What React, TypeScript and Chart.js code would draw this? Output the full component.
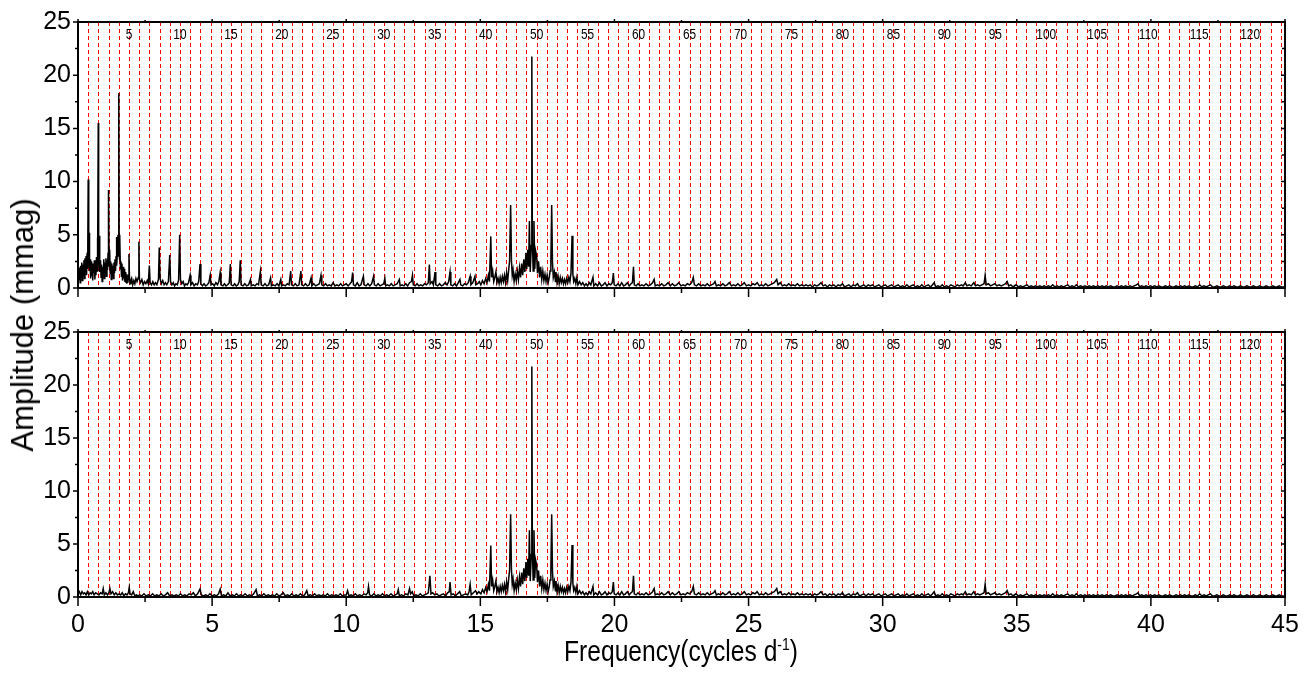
import React, { useEffect, useRef } from 'react';
import { Chart, registerables } from 'chart.js';

Chart.register(...registerables);

// ---------------- data ----------------
// Orbital-harmonic grid (c/d) and the harmonic-number labels printed along the top of each panel
const ORBITAL_FREQ = 0.38;
const HARMONIC_COUNT = 118;
const harmonicLabelOrders = [5, 10, 15, 20, 25, 30, 35, 40, 45, 50, 55, 60, 65, 70, 75, 80, 85, 90, 95, 100, 105, 110, 115];
const harmonicLabelTexts = ['5', '10', '15', '20', '25', '30', '35', '40', '50', '55', '60', '65', '70', '75', '80', '85', '90', '95', '100', '105', '110', '115', '120'];

const xTickValues = [0, 5, 10, 15, 20, 25, 30, 35, 40, 45];
const yTickValues = [0, 5, 10, 15, 20, 25];

// Top panel: original amplitude spectrum, 0-2 c/d  [frequency, amplitude mmag]
const topVeryLow: [number, number][] = [
  [0.00, 1.2], [0.02, 2.0], [0.04, 0.8], [0.06, 1.9], [0.08, 0.5], [0.10, 2.1], [0.12, 1.1], [0.14, 2.4], [0.16, 0.7], [0.18, 2.2],
  [0.20, 1.3], [0.22, 2.6], [0.24, 0.9], [0.26, 2.8], [0.28, 1.5], [0.30, 3.0], [0.32, 1.2], [0.34, 3.3], [0.36, 1.8], [0.37, 4.0],
  [0.38, 10.2], [0.39, 3.2], [0.41, 2.0], [0.42, 5.2], [0.43, 1.6], [0.45, 2.7], [0.47, 0.9], [0.49, 2.5], [0.51, 1.1], [0.53, 2.3],
  [0.55, 0.7], [0.57, 2.0], [0.59, 1.4], [0.61, 2.6], [0.63, 0.8], [0.65, 2.4], [0.67, 1.2], [0.69, 2.9], [0.71, 1.6], [0.72, 4.7],
  [0.74, 2.2], [0.755, 15.5], [0.77, 3.1], [0.79, 2.0], [0.80, 4.9], [0.82, 1.5], [0.84, 2.6], [0.86, 1.0], [0.88, 2.2], [0.90, 0.6],
  [0.92, 2.0], [0.94, 1.3], [0.96, 2.7], [0.98, 0.9], [1.00, 2.4], [1.02, 1.4], [1.04, 2.8], [1.06, 1.1], [1.08, 2.6], [1.10, 1.7],
  [1.12, 3.3], [1.13, 2.0], [1.145, 9.2], [1.16, 2.3], [1.18, 3.6], [1.20, 1.4], [1.22, 2.5], [1.24, 0.8], [1.26, 2.3], [1.28, 1.2],
  [1.30, 2.1], [1.32, 0.9], [1.34, 2.4], [1.36, 1.4], [1.38, 2.7], [1.40, 1.6], [1.42, 3.0], [1.43, 4.8], [1.45, 2.1], [1.47, 3.2],
  [1.49, 5.0], [1.505, 3.0], [1.52, 18.3], [1.535, 3.2], [1.55, 2.6], [1.56, 5.0], [1.58, 1.8], [1.60, 2.5], [1.62, 1.1], [1.64, 2.3],
  [1.66, 0.7], [1.68, 2.0], [1.70, 0.9], [1.72, 1.8], [1.74, 0.6], [1.76, 1.5], [1.78, 0.5], [1.80, 1.3], [1.82, 0.4], [1.84, 1.0],
  [1.86, 0.5], [1.88, 1.2], [1.90, 3.2], [1.92, 0.9], [1.94, 0.4], [1.97, 0.7],
];

// Top panel, 2-10 c/d
const topLow: [number, number][] = [
  [2.00, 0.9], [2.04, 0.3], [2.08, 0.7], [2.12, 0.4], [2.16, 0.9], [2.20, 0.6], [2.25, 1.0], [2.27, 4.35], [2.29, 0.8], [2.33, 0.5],
  [2.38, 0.8], [2.43, 0.3], [2.48, 0.6], [2.53, 0.4], [2.58, 0.7], [2.62, 0.4], [2.66, 2.1], [2.69, 0.5], [2.74, 0.3], [2.79, 0.6],
  [2.84, 0.3], [2.89, 0.5], [2.94, 0.3], [3.00, 0.8], [3.03, 3.8], [3.06, 0.9], [3.11, 0.4], [3.16, 0.7], [3.21, 0.3], [3.26, 0.5],
  [3.31, 0.3], [3.37, 0.6], [3.42, 3.1], [3.45, 0.6], [3.50, 0.3], [3.55, 0.5], [3.60, 0.2], [3.65, 0.4], [3.70, 0.3], [3.75, 0.7],
  [3.79, 5.0], [3.82, 0.8], [3.87, 0.4], [3.92, 0.6], [3.97, 0.2], [4.02, 0.4], [4.07, 0.3], [4.12, 0.5], [4.18, 1.2], [4.21, 0.3],
  [4.27, 0.5], [4.33, 0.2], [4.39, 0.4], [4.45, 0.3], [4.50, 0.6], [4.55, 2.25], [4.58, 0.4], [4.64, 0.2], [4.70, 0.4], [4.76, 0.2],
  [4.82, 0.3], [4.88, 0.5], [4.93, 1.2], [4.96, 0.3], [5.02, 0.4], [5.08, 0.2], [5.14, 0.5], [5.20, 0.3], [5.25, 0.6], [5.30, 1.45],
  [5.33, 0.3], [5.40, 0.2], [5.46, 0.4], [5.52, 0.2], [5.58, 0.3], [5.64, 0.5], [5.68, 2.25], [5.71, 0.3], [5.78, 0.2], [5.84, 0.4],
  [5.90, 0.2], [5.96, 0.3], [6.01, 0.6], [6.05, 2.6], [6.08, 0.3], [6.15, 0.2], [6.22, 0.4], [6.29, 0.2], [6.36, 0.3], [6.43, 0.8],
  [6.46, 0.2], [6.53, 0.3], [6.60, 0.2], [6.67, 0.4], [6.73, 0.3], [6.80, 1.55], [6.83, 0.3], [6.90, 0.2], [6.97, 0.4], [7.04, 0.2],
  [7.11, 0.3], [7.18, 0.95], [7.21, 0.2], [7.28, 0.3], [7.35, 0.2], [7.42, 0.4], [7.49, 0.2], [7.56, 0.8], [7.59, 0.2], [7.66, 0.3],
  [7.73, 0.2], [7.80, 0.4], [7.87, 0.3], [7.93, 1.6], [7.96, 0.3], [8.03, 0.2], [8.10, 0.4], [8.17, 0.2], [8.24, 0.3], [8.31, 1.6],
  [8.34, 0.3], [8.41, 0.2], [8.48, 0.4], [8.55, 0.2], [8.62, 0.3], [8.69, 0.95], [8.72, 0.2], [8.79, 0.4], [8.86, 0.2], [8.93, 0.3],
  [9.00, 0.4], [9.06, 1.2], [9.09, 0.3], [9.16, 0.2], [9.23, 0.4], [9.30, 0.2], [9.37, 0.3], [9.44, 0.2], [9.51, 0.5], [9.58, 0.2],
  [9.65, 0.3], [9.72, 0.2], [9.79, 0.4], [9.86, 0.2], [9.93, 0.3],
];

// Top panel, 10-15 c/d
const topMid: [number, number][] = [
  [10.00, 0.4], [10.07, 0.2], [10.14, 0.4], [10.20, 0.6], [10.24, 1.45], [10.27, 0.3], [10.34, 0.2], [10.41, 0.5], [10.48, 0.2], [10.55, 0.3],
  [10.64, 1.1], [10.67, 0.3], [10.74, 0.2], [10.81, 0.4], [10.88, 0.2], [10.95, 0.4], [11.02, 1.1], [11.05, 0.3], [11.12, 0.2], [11.19, 0.4],
  [11.26, 0.2], [11.33, 0.3], [11.40, 0.4], [11.44, 0.9], [11.47, 0.2], [11.54, 0.3], [11.61, 0.2], [11.68, 0.4], [11.75, 0.2], [11.82, 0.3],
  [11.90, 0.4], [11.98, 0.8], [12.01, 0.2], [12.08, 0.3], [12.15, 0.2], [12.22, 0.4], [12.29, 0.2], [12.36, 0.5], [12.43, 0.6], [12.47, 1.2],
  [12.50, 0.3], [12.57, 0.2], [12.64, 0.4], [12.71, 0.2], [12.78, 0.3], [12.85, 0.2], [12.92, 0.4], [12.99, 0.3], [13.06, 0.5], [13.10, 2.2],
  [13.13, 0.4], [13.20, 0.6], [13.25, 0.3], [13.31, 1.5], [13.34, 0.3], [13.41, 0.2], [13.48, 0.4], [13.55, 0.2], [13.62, 0.3], [13.69, 0.5],
  [13.76, 0.3], [13.82, 0.6], [13.87, 1.5], [13.90, 0.3], [13.97, 0.2], [14.04, 0.4], [14.11, 0.2], [14.18, 0.5], [14.24, 0.8], [14.27, 0.3],
  [14.34, 0.2], [14.41, 0.4], [14.48, 0.3], [14.55, 0.5], [14.62, 1.1], [14.65, 0.3], [14.72, 0.5], [14.80, 1.1], [14.83, 0.3], [14.90, 0.4],
  [14.96, 0.6],
];

// Bottom panel (after removing orbital harmonics), 0-10 c/d
const bottomLow: [number, number][] = [
  [0.00, 0.3], [0.05, 0.5], [0.10, 0.2], [0.15, 0.5], [0.20, 0.3], [0.25, 0.4], [0.30, 0.2], [0.35, 0.5], [0.40, 0.2], [0.45, 0.4],
  [0.50, 0.3], [0.55, 0.5], [0.60, 0.2], [0.66, 0.4], [0.72, 0.3], [0.78, 0.2], [0.84, 0.4], [0.90, 0.3], [0.94, 0.8], [0.98, 0.2],
  [1.04, 0.4], [1.10, 0.2], [1.15, 0.4], [1.19, 0.8], [1.23, 0.3], [1.29, 0.5], [1.35, 0.2], [1.41, 0.4], [1.47, 0.2], [1.53, 0.3],
  [1.59, 0.2], [1.65, 0.4], [1.71, 0.1], [1.77, 0.3], [1.83, 0.2], [1.88, 0.4], [1.91, 0.9], [1.94, 0.3], [2.00, 0.2], [2.06, 0.5],
  [2.12, 0.1], [2.18, 0.2], [2.24, 0.1], [2.30, 0.2], [2.38, 0.1], [2.46, 0.3], [2.54, 0.1], [2.62, 0.2], [2.70, 0.1], [2.78, 0.3],
  [2.86, 0.1], [2.94, 0.2], [3.02, 0.1], [3.10, 0.3], [3.18, 0.1], [3.26, 0.2], [3.34, 0.4], [3.42, 0.1], [3.50, 0.2], [3.58, 0.1],
  [3.66, 0.2], [3.74, 0.1], [3.82, 0.3], [3.90, 0.1], [3.98, 0.2], [4.06, 0.1], [4.14, 0.3], [4.22, 0.2], [4.30, 0.4], [4.38, 0.1],
  [4.46, 0.3], [4.55, 0.75], [4.60, 0.2], [4.68, 0.1], [4.76, 0.2], [4.84, 0.1], [4.92, 0.3], [5.00, 0.1], [5.08, 0.2], [5.16, 0.1],
  [5.24, 0.3], [5.30, 0.75], [5.35, 0.1], [5.43, 0.2], [5.51, 0.1], [5.59, 0.4], [5.67, 0.1], [5.75, 0.2], [5.83, 0.1], [5.91, 0.3],
  [5.99, 0.1], [6.07, 0.2], [6.15, 0.1], [6.23, 0.3], [6.31, 0.1], [6.39, 0.2], [6.47, 0.1], [6.55, 0.3], [6.64, 0.7], [6.69, 0.1],
  [6.77, 0.2], [6.85, 0.1], [6.93, 0.3], [7.01, 0.1], [7.09, 0.2], [7.17, 0.1], [7.25, 0.2], [7.33, 0.1], [7.41, 0.3], [7.49, 0.1],
  [7.57, 0.2], [7.65, 0.4], [7.73, 0.1], [7.81, 0.2], [7.89, 0.1], [7.97, 0.3], [8.05, 0.1], [8.13, 0.2], [8.21, 0.1], [8.29, 0.3],
  [8.37, 0.1], [8.45, 0.2], [8.53, 0.6], [8.58, 0.1], [8.66, 0.2], [8.74, 0.1], [8.82, 0.3], [8.90, 0.1], [8.98, 0.2], [9.06, 0.1],
  [9.14, 0.2], [9.22, 0.1], [9.30, 0.3], [9.38, 0.1], [9.46, 0.2], [9.54, 0.1], [9.62, 0.2], [9.70, 0.1], [9.78, 0.3], [9.86, 0.1],
  [9.94, 0.2],
];

// Bottom panel, 10-15 c/d
const bottomMid: [number, number][] = [
  [10.00, 0.2], [10.05, 0.6], [10.10, 0.1], [10.18, 0.2], [10.26, 0.1], [10.34, 0.3], [10.42, 0.1], [10.50, 0.2], [10.58, 0.1], [10.66, 0.3],
  [10.74, 0.2], [10.80, 0.4], [10.83, 1.0], [10.87, 0.2], [10.95, 0.1], [11.03, 0.3], [11.11, 0.1], [11.19, 0.2], [11.27, 0.1], [11.35, 0.3],
  [11.43, 0.1], [11.51, 0.2], [11.59, 0.1], [11.67, 0.3], [11.75, 0.1], [11.83, 0.2], [11.90, 0.3], [11.94, 0.7], [11.98, 0.1], [12.06, 0.2],
  [12.14, 0.1], [12.22, 0.3], [12.30, 0.2], [12.36, 0.8], [12.40, 0.3], [12.46, 0.5], [12.52, 0.1], [12.60, 0.2], [12.68, 0.1], [12.76, 0.3],
  [12.84, 0.1], [12.92, 0.2], [13.00, 0.3], [13.06, 0.4], [13.12, 2.0], [13.16, 0.3], [13.22, 0.4], [13.30, 0.2], [13.38, 0.3], [13.46, 0.1],
  [13.54, 0.2], [13.62, 0.3], [13.70, 0.1], [13.78, 0.4], [13.84, 0.5], [13.87, 1.4], [13.91, 0.2], [13.99, 0.3], [14.07, 0.1], [14.15, 0.3],
  [14.23, 0.5], [14.29, 0.1], [14.37, 0.2], [14.45, 0.3], [14.53, 0.2], [14.58, 0.5], [14.62, 1.2], [14.66, 0.2], [14.74, 0.4], [14.82, 0.6],
  [14.88, 0.3], [14.94, 0.5],
];

// Pulsation band, 15-19 c/d (same in both panels)
const pulsationBand: [number, number][] = [
  [15.02, 0.3], [15.08, 0.7], [15.14, 0.4], [15.20, 0.9], [15.25, 0.5], [15.30, 1.2], [15.34, 0.6], [15.39, 4.85], [15.42, 1.0], [15.46, 1.6],
  [15.50, 0.6], [15.54, 1.0], [15.58, 1.5], [15.62, 0.5], [15.66, 0.9], [15.70, 0.4], [15.74, 1.0], [15.78, 0.5], [15.82, 1.1], [15.86, 0.6],
  [15.90, 1.2], [15.94, 0.5], [15.98, 1.4], [16.02, 0.7], [16.06, 1.8], [16.09, 2.5], [16.13, 7.8], [16.16, 2.6], [16.19, 1.2], [16.22, 1.7],
  [16.26, 0.6], [16.30, 1.3], [16.34, 0.7], [16.38, 1.6], [16.42, 0.8], [16.46, 1.9], [16.50, 1.0], [16.54, 2.3], [16.58, 1.2], [16.62, 2.7],
  [16.66, 1.5], [16.70, 3.3], [16.73, 1.8], [16.77, 3.6], [16.80, 2.0], [16.83, 6.3], [16.86, 1.5], [16.90, 4.0], [16.92, 21.75], [16.94, 4.5],
  [16.97, 1.6], [17.00, 6.3], [17.03, 1.8], [17.06, 3.5], [17.10, 3.0], [17.13, 1.4], [17.17, 2.5], [17.21, 1.0], [17.25, 2.0], [17.29, 0.8],
  [17.33, 1.6], [17.37, 0.7], [17.41, 1.3], [17.45, 0.6], [17.49, 1.2], [17.53, 0.5], [17.57, 1.0], [17.60, 1.6], [17.63, 2.5], [17.66, 7.8],
  [17.69, 2.4], [17.72, 1.0], [17.76, 1.5], [17.80, 0.6], [17.82, 1.5], [17.86, 0.5], [17.90, 1.1], [17.94, 0.4], [17.98, 1.0], [18.02, 0.5],
  [18.06, 0.9], [18.10, 0.4], [18.14, 0.8], [18.18, 0.4], [18.22, 0.9], [18.26, 0.5], [18.30, 1.0], [18.34, 0.6], [18.38, 1.4], [18.42, 4.9],
  [18.45, 1.3], [18.48, 0.6], [18.52, 0.9], [18.56, 0.4], [18.60, 1.0], [18.64, 0.3], [18.70, 0.6], [18.76, 0.3], [18.82, 0.5], [18.88, 0.2],
  [18.94, 0.4],
];

// 19-21 c/d (same in both panels)
const tailBand: [number, number][] = [
  [19.00, 0.2], [19.06, 0.5], [19.12, 0.3], [19.20, 1.0], [19.23, 0.2], [19.30, 0.4], [19.37, 0.2], [19.44, 0.5], [19.51, 0.2], [19.58, 0.3],
  [19.65, 0.5], [19.72, 0.2], [19.79, 0.4], [19.86, 0.3], [19.92, 0.5], [19.96, 1.4], [19.99, 0.3], [20.06, 0.2], [20.13, 0.4], [20.20, 0.2],
  [20.27, 0.5], [20.34, 0.2], [20.41, 0.3], [20.48, 0.5], [20.55, 0.2], [20.62, 0.4], [20.67, 0.5], [20.71, 2.0], [20.74, 0.3], [20.81, 0.2],
  [20.88, 0.4], [20.95, 0.2],
];

// 21-45 c/d noise (same in both panels)
const highBand: [number, number][] = [
  [21.02, 0.3], [21.10, 0.2], [21.18, 0.4], [21.26, 0.2], [21.34, 0.3], [21.42, 0.5], [21.48, 0.8], [21.52, 0.2], [21.60, 0.3], [21.68, 0.2],
  [21.76, 0.4], [21.84, 0.2], [21.92, 0.3], [22.00, 0.5], [22.08, 0.2], [22.16, 0.4], [22.24, 0.2], [22.32, 0.3], [22.40, 0.5], [22.48, 0.2],
  [22.56, 0.3], [22.64, 0.2], [22.72, 0.4], [22.80, 0.3], [22.88, 0.5], [22.94, 1.0], [22.98, 0.3], [23.06, 0.2], [23.14, 0.4], [23.22, 0.2],
  [23.30, 0.3], [23.38, 0.2], [23.46, 0.4], [23.54, 0.2], [23.62, 0.3], [23.70, 0.4], [23.75, 0.6], [23.80, 0.2], [23.88, 0.3], [23.96, 0.2],
  [24.04, 0.4], [24.12, 0.2], [24.20, 0.3], [24.28, 0.5], [24.36, 0.2], [24.44, 0.3], [24.52, 0.2], [24.60, 0.4], [24.68, 0.2], [24.76, 0.3],
  [24.84, 0.5], [24.92, 0.2], [25.00, 0.3], [25.08, 0.2], [25.16, 0.4], [25.24, 0.3], [25.32, 0.5], [25.40, 0.2], [25.48, 0.3], [25.56, 0.2],
  [25.64, 0.4], [25.72, 0.2], [25.80, 0.3], [25.88, 0.4], [25.96, 0.5], [26.02, 0.7], [26.05, 0.8], [26.10, 0.3], [26.18, 0.5], [26.26, 0.2],
  [26.34, 0.3], [26.42, 0.2], [26.50, 0.4], [26.58, 0.2], [26.66, 0.3], [26.74, 0.2], [26.82, 0.4], [26.90, 0.2], [26.98, 0.3], [27.06, 0.2],
  [27.14, 0.3], [27.22, 0.2], [27.30, 0.3], [27.38, 0.1], [27.46, 0.3], [27.54, 0.2], [27.62, 0.3], [27.70, 0.5], [27.78, 0.2], [27.86, 0.3],
  [27.94, 0.1], [28.02, 0.3], [28.10, 0.2], [28.18, 0.3], [28.26, 0.1], [28.34, 0.3], [28.42, 0.2], [28.50, 0.4], [28.58, 0.1], [28.66, 0.2],
  [28.74, 0.3], [28.82, 0.1], [28.90, 0.3], [28.98, 0.2], [29.06, 0.4], [29.14, 0.1], [29.22, 0.2], [29.30, 0.3], [29.38, 0.1], [29.46, 0.3],
  [29.54, 0.2], [29.62, 0.3], [29.70, 0.1], [29.78, 0.2], [29.86, 0.3], [29.94, 0.1], [30.02, 0.2], [30.10, 0.3], [30.18, 0.1], [30.26, 0.2],
  [30.34, 0.3], [30.42, 0.1], [30.50, 0.2], [30.58, 0.3], [30.66, 0.1], [30.74, 0.2], [30.82, 0.1], [30.90, 0.3], [30.98, 0.1], [31.06, 0.2],
  [31.14, 0.3], [31.22, 0.1], [31.30, 0.2], [31.38, 0.1], [31.46, 0.3], [31.54, 0.1], [31.62, 0.2], [31.70, 0.3], [31.78, 0.1], [31.86, 0.3],
  [31.92, 0.5], [31.98, 0.1], [32.06, 0.2], [32.14, 0.1], [32.22, 0.3], [32.30, 0.1], [32.38, 0.2], [32.46, 0.1], [32.54, 0.3], [32.62, 0.2],
  [32.70, 0.1], [32.78, 0.3], [32.86, 0.2], [32.94, 0.3], [33.00, 0.2], [33.08, 0.5], [33.14, 0.2], [33.22, 0.3], [33.30, 0.2], [33.40, 0.5],
  [33.46, 0.2], [33.54, 0.3], [33.62, 0.2], [33.70, 0.3], [33.78, 0.4], [33.82, 1.2], [33.86, 0.3], [33.94, 0.4], [34.02, 0.2], [34.10, 0.3],
  [34.18, 0.4], [34.26, 0.2], [34.34, 0.3], [34.42, 0.2], [34.50, 0.3], [34.58, 0.4], [34.64, 0.6], [34.70, 0.2], [34.78, 0.3], [34.86, 0.1],
  [34.97, 0.3], [35.06, 0.1], [35.14, 0.2], [35.22, 0.1], [35.30, 0.2], [35.38, 0.3], [35.46, 0.1], [35.54, 0.2], [35.62, 0.1], [35.70, 0.2],
  [35.78, 0.1], [35.86, 0.2], [35.94, 0.1], [36.02, 0.2], [36.10, 0.1], [36.18, 0.2], [36.26, 0.1], [36.34, 0.3], [36.42, 0.1], [36.50, 0.2],
  [36.58, 0.1], [36.66, 0.2], [36.74, 0.1], [36.82, 0.2], [36.90, 0.3], [36.98, 0.1], [37.06, 0.2], [37.14, 0.1], [37.22, 0.3], [37.30, 0.1],
  [37.38, 0.2], [37.46, 0.1], [37.54, 0.2], [37.62, 0.1], [37.70, 0.2], [37.78, 0.1], [37.86, 0.2], [37.94, 0.1], [38.02, 0.2], [38.10, 0.1],
  [38.18, 0.2], [38.26, 0.1], [38.34, 0.2], [38.42, 0.1], [38.50, 0.2], [38.58, 0.1], [38.66, 0.1], [38.74, 0.2], [38.82, 0.1], [38.90, 0.2],
  [38.98, 0.1], [39.06, 0.2], [39.14, 0.1], [39.22, 0.2], [39.30, 0.1], [39.38, 0.2], [39.46, 0.3], [39.52, 0.4], [39.58, 0.1], [39.66, 0.2],
  [39.74, 0.1], [39.82, 0.2], [39.90, 0.1], [39.98, 0.2], [40.06, 0.1], [40.14, 0.2], [40.22, 0.1], [40.30, 0.2], [40.38, 0.1], [40.46, 0.1],
  [40.54, 0.2], [40.62, 0.1], [40.70, 0.2], [40.78, 0.1], [40.86, 0.1], [40.94, 0.2], [41.02, 0.1], [41.10, 0.2], [41.18, 0.1], [41.26, 0.2],
  [41.34, 0.1], [41.42, 0.2], [41.50, 0.1], [41.58, 0.1], [41.66, 0.2], [41.74, 0.1], [41.82, 0.3], [41.90, 0.1], [41.98, 0.2], [42.06, 0.1],
  [42.14, 0.2], [42.22, 0.3], [42.30, 0.1], [42.38, 0.1], [42.46, 0.2], [42.54, 0.1], [42.62, 0.1], [42.70, 0.2], [42.78, 0.1], [42.86, 0.1],
  [42.94, 0.2], [43.02, 0.1], [43.10, 0.2], [43.18, 0.1], [43.26, 0.1], [43.34, 0.2], [43.42, 0.1], [43.50, 0.1], [43.58, 0.2], [43.66, 0.1],
  [43.74, 0.1], [43.82, 0.2], [43.90, 0.1], [43.98, 0.1], [44.06, 0.2], [44.14, 0.1], [44.22, 0.1], [44.30, 0.2], [44.38, 0.1], [44.46, 0.1],
  [44.54, 0.2], [44.62, 0.1], [44.70, 0.1], [44.78, 0.2], [44.86, 0.1], [44.94, 0.1], [45.00, 0.1],
];

const topSpectrum = [...topVeryLow, ...topLow, ...topMid, ...pulsationBand, ...tailBand, ...highBand];
const bottomSpectrum = [...bottomLow, ...bottomMid, ...pulsationBand, ...tailBand, ...highBand];

// ---------------- rendering ----------------
const SANS = "'Liberation Sans', Arial, sans-serif";
const W = 1312;

const decorPlugin = {
  id: 'panelDecor',
  beforeDatasetsDraw(chart: any) {
    const { ctx, chartArea, scales } = chart;
    const { top, bottom } = chartArea;
    ctx.save();
    ctx.strokeStyle = '#ff0000';
    ctx.lineWidth = 1;
    ctx.setLineDash([4, 3]);
    for (let k = 1; k <= HARMONIC_COUNT; k++) {
      const px = Math.round(scales.x.getPixelForValue(k * ORBITAL_FREQ)) + 0.5;
      ctx.beginPath();
      ctx.moveTo(px, top);
      ctx.lineTo(px, bottom);
      ctx.stroke();
    }
    ctx.restore();
  },
  afterDraw(chart: any) {
    const { ctx, chartArea, scales } = chart;
    const { left, right, top, bottom } = chartArea;
    const x = scales.x;
    const y = scales.y;
    ctx.save();
    // harmonic-number labels
    ctx.fillStyle = '#000';
    ctx.font = `14px ${SANS}`;
    ctx.textAlign = 'center';
    ctx.textBaseline = 'middle';
    harmonicLabelOrders.forEach((k, i) => {
      const px = x.getPixelForValue(k * ORBITAL_FREQ);
      ctx.save();
      ctx.translate(px, top + 13);
      ctx.scale(0.85, 1);
      ctx.fillText(harmonicLabelTexts[i], 0, 0);
      ctx.restore();
    });
    // tick marks
    ctx.strokeStyle = '#000';
    ctx.lineWidth = 1.5;
    ctx.beginPath();
    for (let i = 0; i < xTickValues.length; i++) {
      const v = xTickValues[i];
      const px = x.getPixelForValue(v);
      ctx.moveTo(px, bottom); ctx.lineTo(px, bottom + 9);
      ctx.moveTo(px, top); ctx.lineTo(px, top - 3);
      if (i < xTickValues.length - 1) {
        const pm = x.getPixelForValue(v + 2.5);
        ctx.moveTo(pm, bottom); ctx.lineTo(pm, bottom + 5);
        ctx.moveTo(pm, top); ctx.lineTo(pm, top - 2);
      }
    }
    for (let i = 0; i < yTickValues.length; i++) {
      const v = yTickValues[i];
      const py = y.getPixelForValue(v);
      ctx.moveTo(left, py); ctx.lineTo(left - 5, py);
      ctx.moveTo(right, py); ctx.lineTo(right - 4, py);
      if (i < yTickValues.length - 1) {
        const pm = y.getPixelForValue(v + 2.5);
        ctx.moveTo(left, pm); ctx.lineTo(left - 3, pm);
        ctx.moveTo(right, pm); ctx.lineTo(right - 3, pm);
      }
    }
    ctx.stroke();
    // frame
    ctx.lineWidth = 2;
    ctx.strokeRect(left, top, right - left, bottom - top);
    ctx.restore();
  },
};

function makeConfig(points: [number, number][], padTop: number, xAxisHeight: number, showXLabels: boolean): any {
  return {
    type: 'line',
    data: {
      datasets: [
        {
          data: points.map(([f, a]) => ({ x: f, y: a })),
          borderColor: '#000',
          borderWidth: 1.5,
          pointRadius: 0,
          tension: 0,
          fill: false,
        },
      ],
    },
    options: {
      responsive: false,
      animation: false,
      devicePixelRatio: 1,
      parsing: false,
      layout: { padding: { top: padTop, right: 27, left: 0, bottom: 0 } },
      plugins: { legend: { display: false }, tooltip: { enabled: false }, title: { display: false } },
      scales: {
        x: {
          type: 'linear',
          min: 0,
          max: 45,
          grid: { display: false, drawTicks: false },
          border: { display: false },
          ticks: {
            display: showXLabels,
            stepSize: 5,
            autoSkip: false,
            maxRotation: 0,
            padding: 13,
            color: '#000',
            font: { family: SANS, size: 25 },
          },
          afterFit: (s: any) => { s.height = xAxisHeight; },
        },
        y: {
          type: 'linear',
          min: 0,
          max: 25,
          grid: { display: false, drawTicks: false },
          border: { display: false },
          ticks: {
            stepSize: 5,
            padding: 7,
            color: '#000',
            font: { family: SANS, size: 25 },
          },
          afterFit: (s: any) => { s.width = 78; },
        },
      },
    },
    plugins: [decorPlugin],
  };
}

export default function App() {
  const topRef = useRef<HTMLCanvasElement>(null);
  const botRef = useRef<HTMLCanvasElement>(null);

  useEffect(() => {
    const c1 = new Chart(topRef.current as HTMLCanvasElement, makeConfig(topSpectrum, 20, 21, false));
    const c2 = new Chart(botRef.current as HTMLCanvasElement, makeConfig(bottomSpectrum, 17, 78, true));
    return () => {
      c1.destroy();
      c2.destroy();
    };
  }, []);

  return (
    <div style={{ position: 'absolute', left: 0, top: 0, width: W, height: 675, background: '#fff', overflow: 'hidden' }}>
      <canvas ref={topRef} width={W} height={310} style={{ position: 'absolute', left: 0, top: 0, width: W, height: 310 }} />
      <canvas ref={botRef} width={W} height={365} style={{ position: 'absolute', left: 0, top: 310, width: W, height: 365 }} />
      <div
        style={{
          position: 'absolute',
          left: 23,
          top: 325,
          transform: 'translate(-50%, -50%) rotate(-90deg)',
          font: `31px ${SANS}`,
          lineHeight: '34px',
          whiteSpace: 'nowrap',
          color: '#000',
        }}
      >
        Amplitude (mmag)
      </div>
      <div
        style={{
          position: 'absolute',
          left: 681,
          top: 634,
          transform: 'translateX(-50%) scaleX(0.82)',
          font: `30px ${SANS}`,
          lineHeight: '34px',
          whiteSpace: 'nowrap',
          color: '#000',
        }}
      >
        Frequency(cycles d<span style={{ fontSize: 17, position: 'relative', top: -11 }}>-1</span>)
      </div>
    </div>
  );
}
